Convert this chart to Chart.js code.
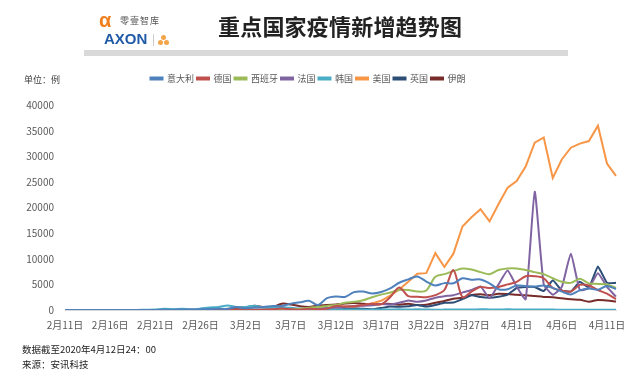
<!DOCTYPE html>
<html>
<head>
<meta charset="utf-8">
<script src="https://cdn.jsdelivr.net/npm/chart.js@4/dist/chart.umd.min.js"></script>
<style>
  html,body{margin:0;padding:0;background:#fff;}
  body{width:640px;height:377px;position:relative;overflow:hidden;font-family:"Noto Sans CJK SC","Noto Sans",sans-serif;}
  #c{position:absolute;left:0;top:0;}
  .abs{position:absolute;white-space:nowrap;}
  #title{left:218px;top:9px;font-size:22px;font-weight:bold;color:#222;letter-spacing:0.2px;}
  #bar{left:84px;top:50px;width:484px;height:6px;background:#d9d9d9;}
  #logoA{left:99px;top:9px;font-family:"Liberation Sans",Arial,sans-serif;font-size:20px;font-weight:bold;color:#f07f1b;}
  #logoT{left:120px;top:14px;font-size:9px;color:#555;letter-spacing:1px;}
  #axon{left:104px;top:30px;font-family:"Liberation Sans",Arial,sans-serif;font-size:15px;font-weight:bold;color:#1f5aa6;}
  #sep{left:153px;top:34px;width:1px;height:12px;background:#ccc;}
  #unit{left:24px;top:73px;font-size:9px;color:#404040;}
  #foot1{left:22px;top:342px;font-size:9.5px;color:#222;}
  #foot2{left:22px;top:357px;font-size:9.5px;color:#222;}
  .dot{position:absolute;width:5px;height:5px;border-radius:50%;background:#f3a54a;}
</style>
</head>
<body>
<canvas id="c" width="640" height="377"></canvas>
<div class="abs" id="title">重点国家疫情新增趋势图</div>
<div class="abs" id="bar"></div>
<div class="abs" id="logoA">α</div>
<div class="abs" id="logoT">零壹智库</div>
<div class="abs" id="axon">AXON</div>
<div class="abs" id="sep"></div>
<div class="dot" style="left:161px;top:35px"></div>
<div class="dot" style="left:158px;top:40px"></div>
<div class="dot" style="left:164px;top:40px"></div>
<div class="abs" id="unit">单位：例</div>
<div class="abs" id="foot1">数据截至2020年4月12日24：00</div>
<div class="abs" id="foot2">来源：安讯科技</div>
<script>
// ---- categories (dates) ----
const dates = [
 "2月11日","2月12日","2月13日","2月14日","2月15日","2月16日","2月17日","2月18日","2月19日","2月20日",
 "2月21日","2月22日","2月23日","2月24日","2月25日","2月26日","2月27日","2月28日","2月29日",
 "3月1日","3月2日","3月3日","3月4日","3月5日","3月6日","3月7日","3月8日","3月9日","3月10日",
 "3月11日","3月12日","3月13日","3月14日","3月15日","3月16日","3月17日","3月18日","3月19日","3月20日",
 "3月21日","3月22日","3月23日","3月24日","3月25日","3月26日","3月27日","3月28日","3月29日","3月30日","3月31日",
 "4月1日","4月2日","4月3日","4月4日","4月5日","4月6日","4月7日","4月8日","4月9日","4月10日","4月11日","4月12日"
];
const seriesNames = ["意大利","德国","西班牙","法国","韩国","美国","英国","伊朗"];
const seriesColors = ["#4f81bd","#c0504d","#9bbb59","#8064a2","#4bacc6","#f79646","#2c4d75","#772c2a"];

// ---- series values (daily new cases) ----
const italy = [
 0,0,0,0,0,0,0,0,0,0,
 17,62,53,97,93,131,202,233,240,
 566,342,466,587,769,778,1247,1492,1797,977,
 2313,2651,2547,3497,3590,3233,3526,4207,5322,5986,
 6557,5560,4789,5249,5210,6203,5909,5974,5217,4050,4053,
 4782,4668,4585,4805,4316,3599,3039,3836,4204,3951,4694,4092
];
const germany = [
 0,0,0,0,0,0,0,0,0,0,
 0,0,0,0,0,2,20,5,22,
 50,30,40,70,140,280,160,60,240,160,
 270,800,700,730,1000,1200,1100,2500,4400,2700,
 2600,2500,2900,3900,7800,2500,3600,4500,4300,4500,5000,
 5500,6600,6600,6200,4300,3800,3600,4900,4800,3900,3200,2100
];
const spain = [
 0,0,0,0,0,0,0,0,0,0,
 0,0,0,0,4,3,5,10,13,
 39,36,45,57,37,100,120,200,450,600,
 800,1000,1400,1600,1900,2500,3000,3400,3900,3900,
 3600,3800,6500,7000,7600,8100,7900,7400,7000,7800,8100,
 8100,7800,7400,7000,6200,5500,5300,6100,5200,5100,5000,4300
];
const france = [
 0,0,0,0,0,0,0,0,0,0,
 0,0,0,0,2,4,20,19,43,
 43,30,48,34,73,138,190,103,410,286,
 372,495,591,780,829,911,1193,1079,1404,1861,
 1617,1847,2400,2700,2900,3400,3900,4600,2300,5000,7700,
 4600,2100,23100,5000,3000,4500,11000,3900,4300,7200,4500,2600
];
const korea = [
 0,0,0,0,0,0,0,1,20,53,
 100,229,169,231,144,284,505,571,900,
 586,599,851,435,467,505,448,272,165,35,
 242,114,110,107,76,74,84,93,152,87,
 147,98,64,76,100,104,91,146,105,78,125,
 101,89,86,94,81,47,47,53,39,27,30,32
];
const usa = [
 0,0,0,0,0,0,0,0,0,0,
 0,0,0,0,0,0,1,1,6,
 8,20,24,22,69,70,100,110,180,290,
 400,500,700,700,900,1300,1800,2800,4000,5500,
 7100,7200,11100,8400,11000,16300,18100,19700,17300,20700,23900,
 25200,28000,32700,33700,25800,29400,31700,32500,33000,36000,28600,26200
];
const uk = [
 0,0,0,0,0,0,0,0,0,0,
 0,0,0,0,0,0,0,2,3,
 12,4,11,34,29,48,43,67,48,50,
 80,130,200,340,230,150,400,680,640,710,
 1000,670,970,1430,1450,2130,2890,2550,2400,2600,3000,
 4300,4500,4500,3700,5800,3800,3600,5500,4400,8500,5300,5300
];
const iran = [
 0,0,0,0,0,0,0,0,2,3,
 13,10,15,18,34,44,106,143,205,
 385,523,835,586,591,1234,1076,743,595,881,
 958,1075,1289,1365,1209,1053,1178,1192,1046,1237,
 966,1028,1411,1762,2206,2389,2926,3076,2901,3186,3110,
 2987,2875,2715,2560,2483,2274,2089,1997,1634,1972,1837,1657
];
const seriesValues = [italy, germany, spain, france, korea, usa, uk, iran];
const seriesTension = [0.3, 0.3, 0.3, 0.15, 0.3, 0, 0.1, 0.3];

// ---- y-axis ticks ----
const yMin = 0, yMax = 40000, yStep = 5000;

const datasets = seriesNames.map((name, i) => ({
  label: name,
  data: seriesValues[i],
  borderColor: seriesColors[i],
  backgroundColor: seriesColors[i],
  borderWidth: 2,
  pointRadius: 0,
  pointHoverRadius: 0,
  tension: seriesTension[i],
  fill: false
}));

const fontFam = '"Noto Sans CJK SC","Noto Sans",sans-serif';

new Chart(document.getElementById('c'), {
  type: 'line',
  data: { labels: dates, datasets },
  options: {
    responsive: false,
    animation: false,
    devicePixelRatio: 1,
    layout: { padding: { left: 0, right: 24, top: 71, bottom: 37 } },
    plugins: {
      tooltip: { enabled: false },
      legend: {
        position: 'top',
        align: 'center',
        labels: {
          boxWidth: 12, boxHeight: 2, padding: 3,
          color: '#595959',
          font: { size: 9, family: fontFam }
        }
      },
      subtitle: {
        display: true, text: '', weight: 500,
        font: { size: 1 }, padding: { top: 0, bottom: 11 }
      }
    },
    scales: {
      x: {
        type: 'category',
        offset: false,
        grid: { display: false, drawTicks: false },
        border: { display: true, color: '#d9d9d9' },
        ticks: {
          autoSkip: false, maxRotation: 0, minRotation: 0,
          padding: 9,
          color: '#595959',
          font: { size: 10, family: fontFam },
          callback: function(v, idx) { return idx % 5 === 0 ? dates[idx] : ''; }
        },
        afterFit: s => { s.height = 30; }
      },
      y: {
        min: yMin, max: yMax,
        grid: { display: false, drawTicks: false },
        border: { display: false },
        ticks: {
          stepSize: yStep,
          padding: 11,
          color: '#595959',
          font: { size: 10, family: fontFam },
          callback: v => String(v)
        },
        afterFit: s => { s.width = 65; }
      }
    }
  }
});
</script>
</body>
</html>
